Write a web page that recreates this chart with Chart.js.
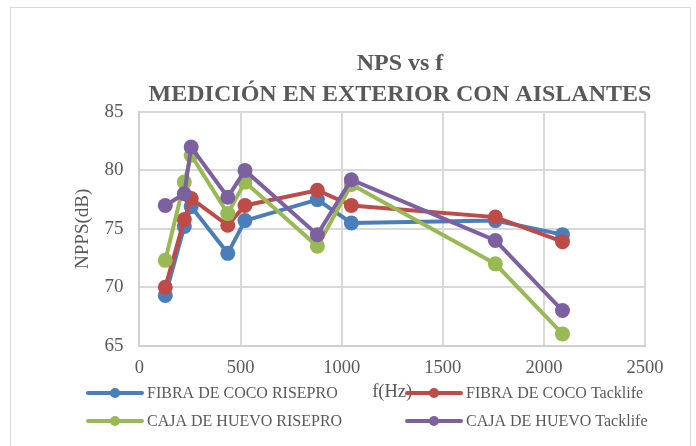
<!DOCTYPE html>
<html>
<head>
<meta charset="utf-8">
<script src="https://cdn.jsdelivr.net/npm/chart.js@4/dist/chart.umd.min.js"></script>
<style>
    html, body { margin: 0; padding: 0; background: #ffffff; overflow: hidden; }
    #frame {
        position: absolute; left: 10px; top: 7px; width: 679px; height: 500px;
        border: 1.5px solid #d9d9d9;
    }
    #wrap { position: absolute; left: 0; top: 0; width: 696px; height: 446px; }
</style>
</head>
<body>
<div id="frame"></div>
<div id="wrap"><canvas id="chart" width="696" height="446"></canvas></div>
<script>
// frequencies (Hz) shared by all four series
const freqs = [128, 222, 256, 437, 522, 880, 1048, 1760, 2092];

const seriesNames = [
    'FIBRA DE COCO RISEPRO',
    'FIBRA DE COCO Tacklife',
    'CAJA DE HUEVO RISEPRO',
    'CAJA DE HUEVO Tacklife'
];

const fibraRisepro  = [69.3, 75.2, 76.9, 72.9, 75.7, 77.5, 75.5, 75.7, 74.5];
const fibraTacklife = [70.0, 75.8, 77.6, 75.3, 77.0, 78.3, 77.0, 76.0, 73.9];
const cajaRisepro   = [72.3, 79.0, 81.3, 76.3, 79.0, 73.5, 78.8, 72.0, 66.0];
const cajaTacklife  = [77.0, 78.0, 82.0, 77.7, 80.0, 74.5, 79.2, 74.0, 68.0];

const xTicks = [0, 500, 1000, 1500, 2000, 2500];
const yTicks = [65, 70, 75, 80, 85];

const titleLines = ['NPS vs f', 'MEDICIÓN EN EXTERIOR CON AISLANTES'];

const colors = ['#4a7ebb', '#be4b48', '#98b954', '#7d60a0'];
const textColor = '#595959';
const serif = "'Liberation Serif', 'DejaVu Serif', serif";

const allSeries = [fibraRisepro, fibraTacklife, cajaRisepro, cajaTacklife];

const datasets = allSeries.map((values, i) => ({
    label: seriesNames[i],
    data: values.map((v, j) => ({ x: freqs[j], y: v })),
    borderColor: colors[i],
    backgroundColor: colors[i],
    borderWidth: 4,
    pointRadius: 7.5,
    pointHoverRadius: 7.5,
    pointBorderWidth: 0,
    tension: 0,
    order: 4 - i   // later series drawn on top, like the original
}));

// title and 2x2 legend drawn by hand to match the original layout
const decorPlugin = {
    id: 'decor',
    afterDraw(chart) {
        const ctx = chart.ctx;
        ctx.save();
        ctx.fillStyle = textColor;
        ctx.textAlign = 'center';
        ctx.textBaseline = 'alphabetic';
        ctx.font = 'bold 24px ' + serif;
        ctx.fillText(titleLines[0], 400, 70);
        ctx.fillText(titleLines[1], 400, 100.5);

        const cols = [88, 407];
        const rows = [393, 421];
        chart.data.datasets.forEach((ds, i) => {
            const x = cols[i % 2];
            const y = rows[Math.floor(i / 2)];
            ctx.strokeStyle = ds.borderColor;
            ctx.lineWidth = 4;
            ctx.lineCap = 'round';
            ctx.beginPath();
            ctx.moveTo(x, y);
            ctx.lineTo(x + 54, y);
            ctx.stroke();
            ctx.fillStyle = ds.borderColor;
            ctx.beginPath();
            ctx.arc(x + 27, y, 5, 0, Math.PI * 2);
            ctx.fill();
            ctx.fillStyle = textColor;
            ctx.textAlign = 'left';
            ctx.textBaseline = 'middle';
            ctx.font = '16px ' + serif;
            ctx.fillText(ds.label, x + 59, y + 1);
        });
        ctx.restore();
    }
};

new Chart(document.getElementById('chart'), {
    type: 'line',
    data: { datasets: datasets },
    plugins: [decorPlugin],
    options: {
        responsive: false,
        animation: false,
        layout: { padding: { top: 112, left: 72, right: 51, bottom: 43 } },
        plugins: {
            legend: { display: false },
            title: { display: false },
            tooltip: { enabled: false }
        },
        scales: {
            x: {
                type: 'linear',
                min: xTicks[0],
                max: xTicks[xTicks.length - 1],
                afterBuildTicks: axis => { axis.ticks = xTicks.map(v => ({ value: v })); },
                grid: { color: '#d9d9d9', lineWidth: 2, drawTicks: false },
                border: { color: '#d0d0d0', width: 2 },
                ticks: {
                    color: textColor,
                    font: { family: serif, size: 18.5 },
                    padding: 11.5,
                    maxRotation: 0,
                    callback: v => String(v)
                },
                title: {
                    display: true,
                    text: 'f(Hz)',
                    color: textColor,
                    font: { family: serif, size: 18.5 },
                    padding: { top: -10, bottom: 0 }
                }
            },
            y: {
                min: yTicks[0],
                max: yTicks[yTicks.length - 1],
                afterBuildTicks: axis => { axis.ticks = yTicks.map(v => ({ value: v })); },
                grid: { color: '#d9d9d9', lineWidth: 2, drawTicks: false },
                border: { color: '#d0d0d0', width: 2 },
                ticks: { color: textColor, font: { family: serif, size: 19 }, padding: 16 },
                title: {
                    display: true,
                    text: 'NPPS(dB)',
                    color: textColor,
                    font: { family: serif, size: 19 },
                    padding: { top: 0, bottom: -6.4 }
                }
            }
        }
    }
});
</script>
</body>
</html>
